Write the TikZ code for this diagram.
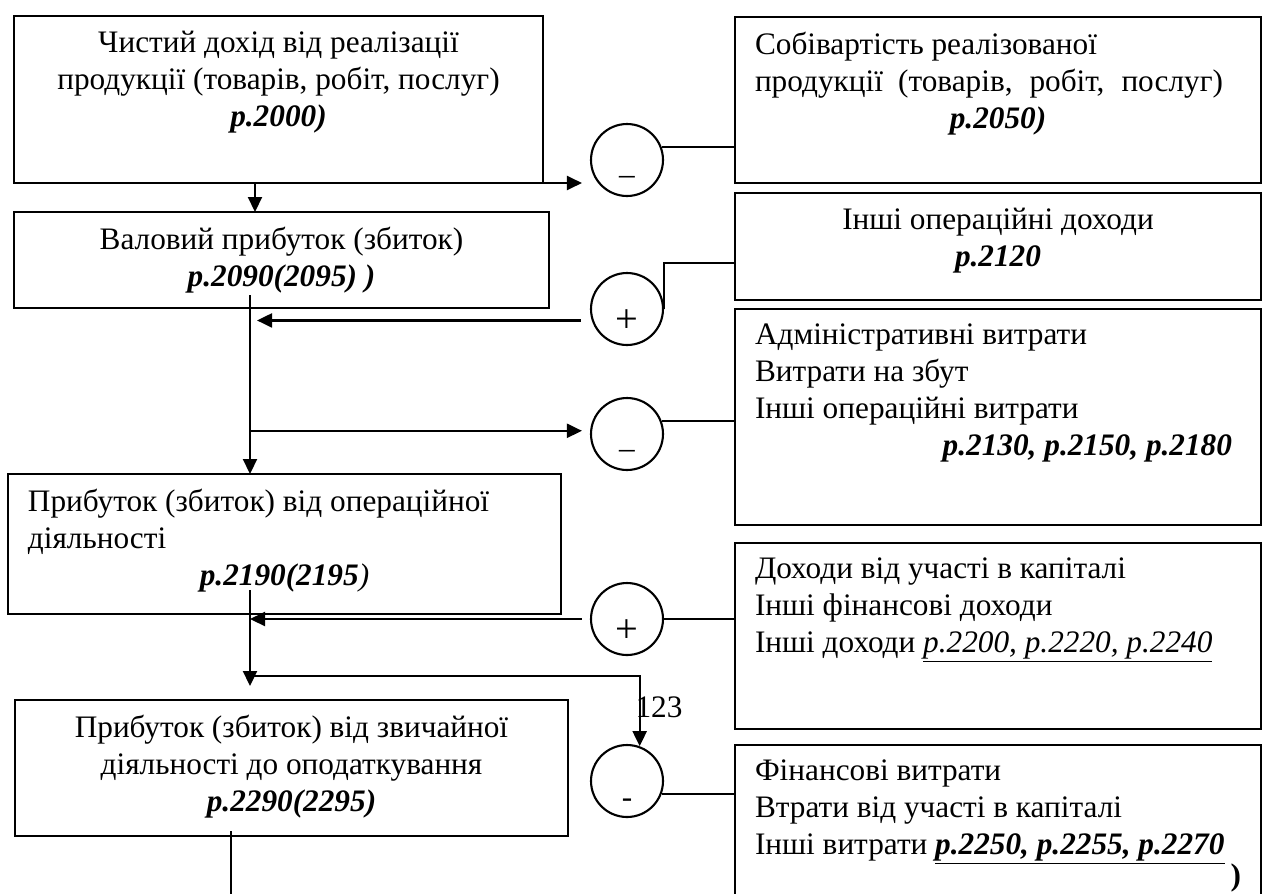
\documentclass[tikz,border=0pt]{standalone}
\usepackage{fontspec}
\setmainfont{Liberation Serif}
\usetikzlibrary{arrows.meta,calc}
\newdimen\pxu \pxu=0.02cm
\newcommand{\boxtext}[3]{\parbox[t][#2\pxu][t]{#1\pxu}{#3}}
\newcommand{\rownum}[1]{\textbf{\textit{#1}}}
\begin{document}
\begin{tikzpicture}[x=0.02cm, y=-0.02cm, font=\fontsize{17.8}{21}\selectfont,
  box/.style={draw, line width=1.2pt, anchor=north west, inner xsep=0.4cm, inner ysep=0.3cm, outer sep=0pt},
  sum/.style={circle, draw, line width=1.2pt, minimum size=1.44cm, inner sep=0pt},
  arr/.style={line width=1.2pt, -{Triangle[length=0.3cm, width=0.28cm]}},
  conn/.style={line width=1.2pt}]
  \useasboundingbox (0,0) rectangle (1263,893);
  \node[box] (dohid) at (14,16) {\boxtext{489}{137}{\centering Чистий дохід від реалізації\\продукції (товарів, робіт, послуг)\\\rownum{р.2000)}}};
  \node[box] (sobivart) at (735,17) {\boxtext{486}{136}{\raggedright Собівартість реалізованої\\\makebox[468\pxu][s]{продукції (товарів, робіт, послуг)}\\\makebox[\linewidth][c]{\rownum{р.2050)}}}};
  \node[box] (valovyi) at (14,212) {\boxtext{495}{66}{\centering Валовий прибуток (збиток)\\\rownum{р.2090(2095) )}}};
  \node[box] (inshi) at (735,193) {\boxtext{486}{77}{\centering Інші операційні доходи\\\rownum{р.2120}}};
  \node[box] (admin) at (735,309) {\boxtext{486}{186}{\raggedright Адміністративні витрати\\Витрати на збут\\Інші операційні витрати\\\makebox[\linewidth][r]{\rownum{р.2130, р.2150, р.2180}\hspace*{0.18cm}}}};
  \node[box] (oper) at (8,474) {\boxtext{513}{110}{\raggedright Прибуток (збиток) від операційної\\діяльності\\\makebox[\linewidth][c]{\rownum{р.2190(2195}\textit{)}}}};
  \node[box] (dokh) at (735,543) {\boxtext{486}{156}{\raggedright Доходи від участі в капіталі\\Інші фінансові доходи\\Інші доходи \underline{\textit{р.2200, р.2220, р.2240}}}};
  \node[box] (zvych) at (15,700) {\boxtext{513}{106}{\centering Прибуток (збиток) від звичайної\\діяльності до оподаткування\\\rownum{р.2290(2295)}}};
  \node[box] (finv) at (735,745) {\boxtext{486}{140}{\raggedright Фінансові витрати\\Втрати від участі в капіталі\\Інші витрати \underline{\rownum{р.2250, р.2255, р.2270}}\\[-0.12cm]\makebox[\linewidth][r]{\textbf{)}}}};
  \foreach \n/\y/\s/\r in {m1/160/{–}/-0.49cm, p1/309/{\fontsize{23}{23}\selectfont +}/-0.47cm, m2/434/{–}/-0.49cm, p2/619/{\fontsize{23}{23}\selectfont +}/-0.47cm, m3/781/{-}/-0.53cm}
    \node[sum] (\n) at (627,\y) {\raisebox{\r}[0pt][0pt]{\makebox[0pt]{\s}}};
  \coordinate (trunk) at (255,0);
  \coordinate (spineA) at (250,295);
  \coordinate (spineB) at (250,590);
  \coordinate (branch) at (250,676);
  \coordinate (spineC) at (231,831);
  \coordinate (exit) at (231,905);
  \draw[arr, shorten >=0.16cm] (dohid.south east) -- (dohid.south east -| m1.west);
  \draw[conn] (m1.21) -- (m1.21 -| sobivart.west);
  \draw[arr] (dohid.south -| trunk) -- (valovyi.north -| trunk);
  \draw[arr] (spineA) -- (spineA |- oper.north);
  \draw[conn] (p1.east) |- ([yshift=-0.33cm]inshi.west);
  \draw[arr, shorten <=0.18cm, shorten >=0.14cm] (p1.198 -| p1.west) -- (p1.198 -| spineA);
  \draw[arr, shorten >=0.16cm] (m2.175 -| spineA) -- (m2.175 -| m2.west);
  \draw[conn] (m2.20) -- (m2.20 -| admin.west);
  \draw[arr, shorten >=0.28cm] (spineB) -- (spineB |- zvych.north);
  \draw[conn] (p2.east) -- (p2.east -| dokh.west);
  \draw[arr, shorten <=0.16cm] (p2.west) -- (p2.west -| spineB);
  \draw[arr] (branch) -| (m3.70);
  \node (n123) at (659,707) {123};
  \draw[conn] (m3.340) -- (m3.340 -| finv.west);
  \draw[conn] (spineC) -- (exit);
\end{tikzpicture}
\end{document}
